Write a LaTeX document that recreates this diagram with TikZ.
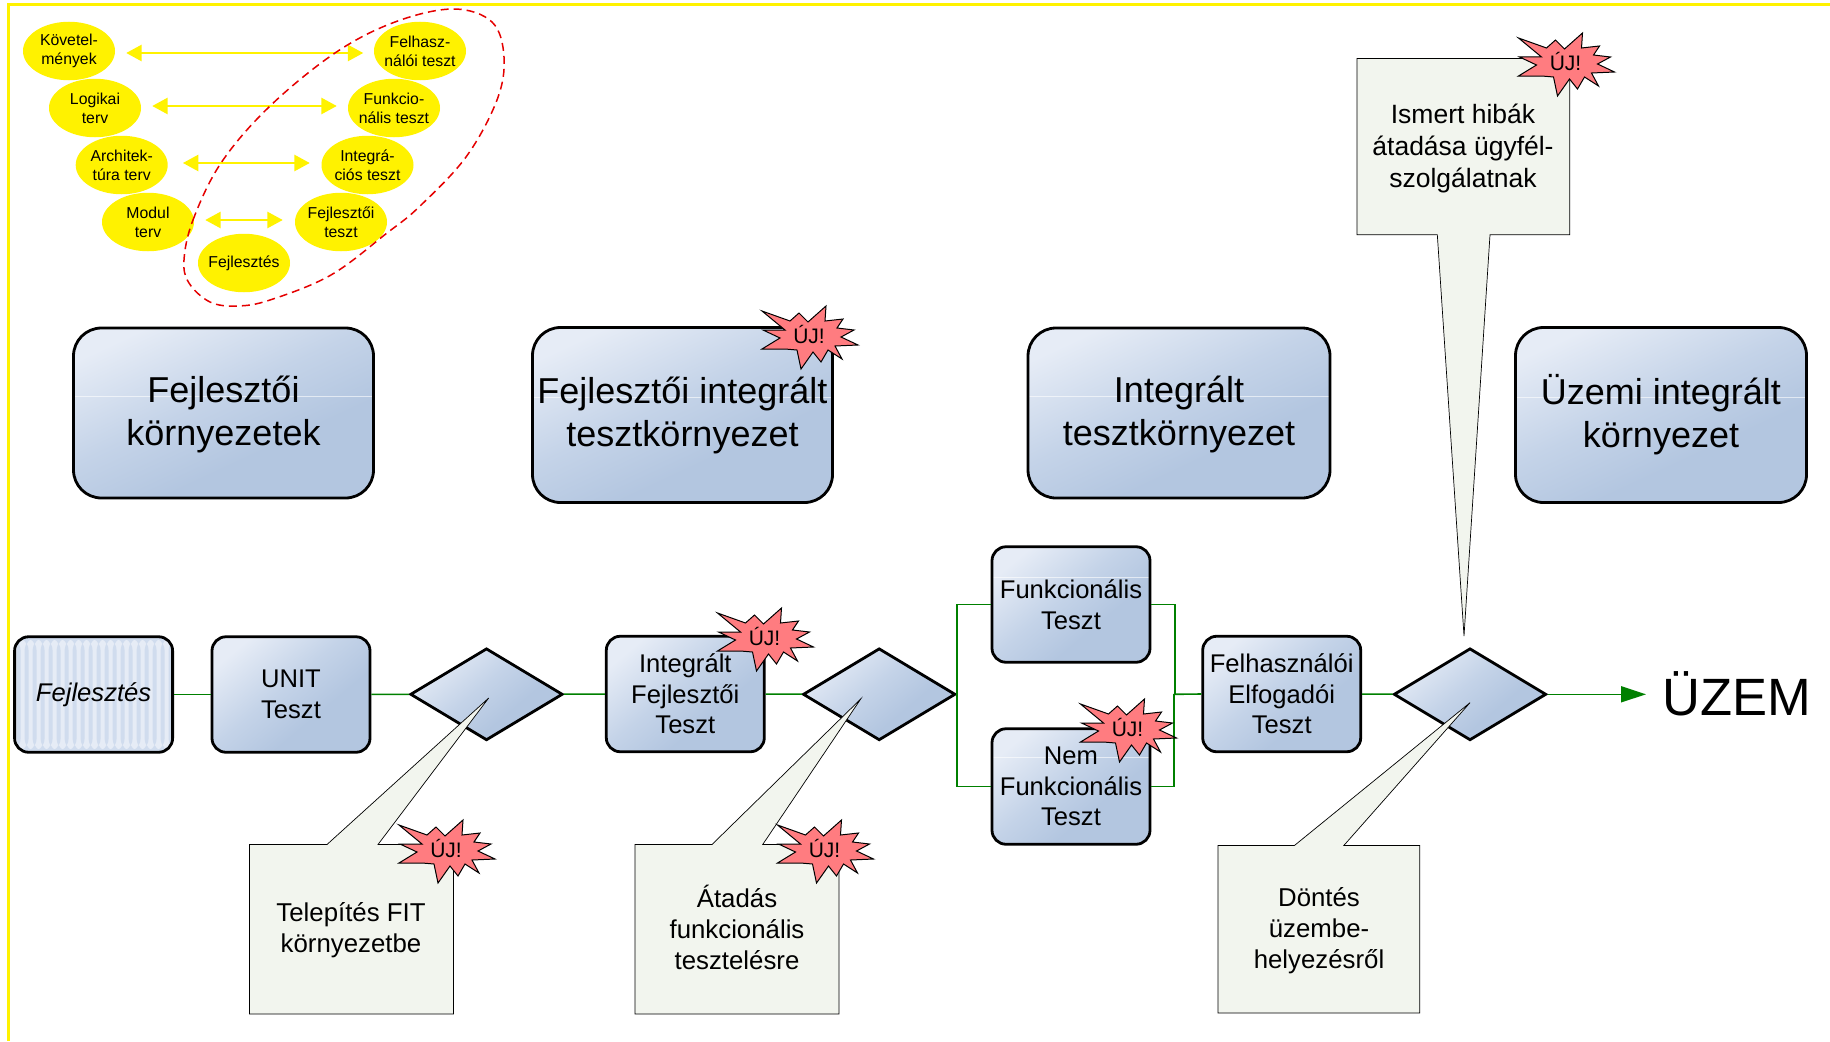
\documentclass[tikz,border=0pt]{standalone}
\usepackage{fontspec}
\setmainfont{Liberation Sans}
\usetikzlibrary{shapes.geometric,arrows.meta,calc}
\definecolor{gbA}{HTML}{E6ECF6}
\definecolor{gbM}{HTML}{C4D3E8}
\definecolor{gbB}{HTML}{B3C6E0}
\definecolor{stripeA}{HTML}{E6ECF6}
\definecolor{stripeB}{HTML}{D0DCEE}
\definecolor{callf}{HTML}{F2F5EE}
\definecolor{burst}{HTML}{FF7C80}
\definecolor{conn}{HTML}{008000}
\pgfdeclareverticalshading{glassy}{100bp}{color(0bp)=(gbB);color(38bp)=(gbB);color(54bp)=(gbM);color(76bp)=(gbA);color(100bp)=(gbA)}
\tikzset{
 x=1pt,y=-1pt,
 boxcore/.style={draw=black,line width=2.8pt,align=center,inner sep=0pt},
 base/.style={boxcore,shade,shading=glassy,shading angle=40},
 flowgeom/.style={rounded corners=14pt,minimum width=158pt,minimum height=115.5pt,font=\fontsize{25.6}{30.5}\selectfont},
 flow/.style={base,flowgeom},
 env/.style={base,shading angle=25,rounded corners=28pt},
 envtext/.style={align=center,inner sep=0pt,font=\fontsize{36}{43}\selectfont},
 glass/.style={path picture={\draw[white,opacity=.6,line width=.7pt] ($(path picture bounding box.north west)!#1!(path picture bounding box.south west)$) -- ($(path picture bounding box.north east)!#1!(path picture bounding box.south east)$);}},
 stripes/.style={fill=stripeA,path picture={\foreach \sx in {2,10,...,160}{\fill[stripeB] ($(path picture bounding box.north west)+(\sx,0)$) rectangle ($(path picture bounding box.south west)+(\sx+4,0)$);}}},
 dec/.style={base,diamond,aspect=1.656,minimum width=152.5pt,minimum height=92pt},
 conline/.style={draw=conn,line width=1.6pt},
 vnode/.style={ellipse,fill=yellow,minimum width=92pt,minimum height=58.5pt,inner sep=0pt,label={[align=center,inner sep=0pt,font=\fontsize{15.8}{19}\selectfont]center:#1}},
 varrow/.style={draw=yellow,line width=2.8pt,{Triangle[length=15.5pt,width=16pt]}-{Triangle[length=15.5pt,width=16pt]}},
 call/.style={draw=black,line width=.7pt,fill=callf},
 calltext/.style={align=center,font=\fontsize{25.8}{31}\selectfont},
 bursttext/.style={font=\fontsize{21}{24}\selectfont},
}
\newcommand{\burstat}[3]{%
 \draw[fill=burst,draw=black,line width=1pt] (#1,#2)
  +(-48,-26) -- +(-20,-16) -- +(-11,-24) -- +(-2,-15) -- +(16,-31) -- +(15,-16) -- +(33,-18) -- +(27,-9) -- +(44,-7) -- +(31,0)
  -- +(48,8) -- +(25,9) -- +(32,22) -- +(18,13) -- +(11,25) -- +(3,15) -- +(-9,32) -- +(-13,13) -- +(-25,12) -- +(-48,12) -- +(-30,1) -- +(-47,-7) -- +(-25,-7) -- cycle;
 \node[bursttext] (#3) at (#1-1,#2-2.5) {ÚJ!};
}
\begin{document}
\begin{tikzpicture}
\useasboundingbox (0,0) rectangle (1830,1041);
\fill[white] (0,0) rectangle (1830,1041);
\draw[yellow,line width=2.2pt] (1830,4.5) -- (8.5,4.5) -- (8.5,1041);
% V model
\node[vnode={Követel-\\mények}] (k) at (69,51) {};
\node[vnode={Logikai\\terv}] (l) at (95,108) {};
\node[vnode={Architek-\\túra terv}] (a) at (121.7,165) {};
\node[vnode={Modul\\terv}] (m) at (148,222) {};
\node[vnode={Fejlesztés}] (fj) at (244,263) {};
\node[vnode={Felhasz-\\nálói teszt}] (f) at (420,51) {};
\node[vnode={Funkcio-\\nális teszt}] (fu) at (394,108) {};
\node[vnode={Integrá-\\ciós teszt}] (i) at (367.5,165) {};
\node[vnode={Fejlesztői\\teszt}] (fe) at (341,222) {};
\draw[varrow] ($(k.east)+(11,2)$) -- ($(f.west)+(-10.5,2)$);
\draw[varrow] ($(l.east)+(11,-2)$) -- ($(fu.west)+(-11,-2)$);
\draw[varrow] ($(a.east)+(15,-2)$) -- ($(i.west)+(-11.5,-2)$);
\draw[varrow] ($(m.east)+(11,-2)$) -- ($(fe.west)+(-12,-2)$);
\draw[red!90!black,line width=1.5pt,dash pattern=on 8pt off 5pt] plot[smooth cycle,tension=.6] coordinates {
 (184,260) (193,220) (221,163) (269,107) (335,53) (395,22) (453,9) (492,22) (504,57) (497,100) (466,157) (419,207) (387,233) (331,275) (270,300) (237,306) (210,302) (189,283)};
% environments
\node[env,glass=.4,minimum width=300pt,minimum height=170pt,label={[envtext,yshift=-1pt]center:{Fejlesztői\\környezetek}}] (e1) at (223.5,413) {};
\node[env,glass=.4,minimum width=300pt,minimum height=175pt,label={[envtext,yshift=-.5pt]center:{Fejlesztői integrált\\tesztkörnyezet}}] (e2) at (682.5,415) {};
\node[env,glass=.4,minimum width=302pt,minimum height=170pt,label={[envtext,yshift=-1pt]center:{Integrált\\tesztkörnyezet}}] (e3) at (1179,413) {};
\node[env,glass=.4,minimum width=291pt,minimum height=175pt,label={[envtext,yshift=0pt]center:{Üzemi integrált\\környezet}}] (e4) at (1661,415) {};
% flow
\node[boxcore,flowgeom,stripes,font=\fontsize{25.6}{30.5}\selectfont\itshape] (n0) at (93.6,694.5) {Fejlesztés};
\node[flow] (n1) at (291,694.5) {UNIT\\Teszt};
\node[dec] (d1) at (486.5,694.3) {};
\node[flow] (n2) at (685.3,694) {Integrált\\Fejlesztői\\Teszt};
\node[dec] (d2) at (879.2,694.3) {};
\node[flow,glass=.265] (n3) at (1071,604.5) {Funkcionális\\Teszt};
\node[flow,glass=.25] (n4) at (1071,786.5) {Nem\\Funkcionális\\Teszt};
\node[flow] (n5) at (1281.7,694) {Felhasználói\\Elfogadói\\Teszt};
\node[dec] (d3) at (1470,694.3) {};
\coordinate (c1) at (1175,694.3);
\coordinate (c2) at (1173.7,694.3);
\coordinate (uzin) at (1646,694.3);
\node[inner sep=0pt,anchor=base,font=\fontsize{52.5}{60}\selectfont] (uz) at (1737,715) {ÜZEM};
\draw[conline] (n0) -- (n1);
\draw[conline] (n1) -- (d1);
\draw[conline] (d1) -- (n2);
\draw[conline] (n2) -- (d2);
\draw[conline] (d2.east) |- (n3.west);
\draw[conline] (d2.east) |- (n4.west);
\draw[conline] (n3.east) -| (c1);
\draw[conline] (n4.east) -| (c2);
\draw[conline] (c2) -- (n5.west);
\draw[conline] (n5) -- (d3);
\draw[conline,-{Triangle[length=25pt,width=16pt]}] (d3.east) -- (uzin);
% callouts
\draw[call] (249.5,844.5) -- (327,844.5) -- (488.7,698) -- (378,844.5) -- (453.5,844.5) -- (453.5,1014) -- (249.5,1014) -- cycle;
\node[calltext] (t1) at (351,930.3) {Telepítés FIT\\környezetbe};
\draw[call] (635,844.5) -- (712,844.5) -- (860.7,699) -- (762.7,844.5) -- (839,844.5) -- (839,1014) -- (635,1014) -- cycle;
\node[calltext] (t2) at (737,927) {Átadás\\funkcionális\\tesztelésre};
\draw[call] (1218,845.5) -- (1294.4,845.5) -- (1470,702.7) -- (1343.8,845.5) -- (1419.8,845.5) -- (1419.8,1013) -- (1218,1013) -- cycle;
\node[calltext] (t3) at (1319,930.3) {Döntés\\üzembe-\\helyezésről};
\draw[call] (1357,58.5) -- (1569.7,58.5) -- (1569.7,234.7) -- (1490,234.7) -- (1464,636) -- (1437.3,234.7) -- (1357,234.7) -- cycle;
\node[calltext,font=\fontsize{26.5}{32}\selectfont] (t4) at (1463,148.3) {Ismert hibák\\átadása ügyfél-\\szolgálatnak};
% bursts
\burstat{810}{337}{b1}
\burstat{765.5}{639}{b2}
\burstat{1128.5}{730}{b3}
\burstat{447}{851}{b4}
\burstat{825.5}{851}{b5}
\burstat{1566.5}{64}{b6}
\end{tikzpicture}
\end{document}
